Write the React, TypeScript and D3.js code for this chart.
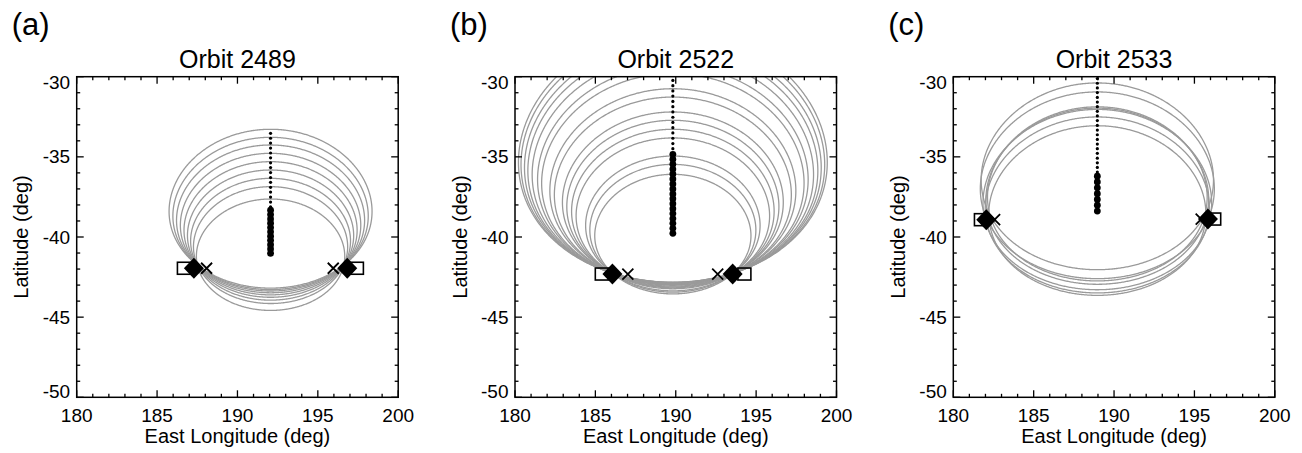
import React from 'react';
import * as d3 from 'd3';

// ---------- data ----------
const xTickValues = [180, 185, 190, 195, 200];
const yTickValues = [-30, -35, -40, -45, -50];
const panelLabels = ['(a)', '(b)', '(c)'];
const orbitTitles = ['Orbit 2489', 'Orbit 2522', 'Orbit 2533'];

// longitude of the track of dots / centre meridian of the footprint circles
const trackLon = [192.06, 189.82, 188.96];

// footprint circles: northernmost and southernmost latitude on the centre meridian
const circleTopsA = [-33.28, -33.78, -34.26, -34.78, -35.3, -35.82, -36.34, -36.86, -37.63];
const circleBottomsA = [-43.19, -43.28, -43.37, -43.48, -43.61, -43.76, -43.94, -44.15, -44.58];
const circleTopsB = [-27.1, -27.4, -27.8, -28.2, -28.7, -29.33, -29.8, -30.75, -31.27, -32.2, -32.72, -33.28, -33.82, -34.95, -35.47, -36.09];
const circleBottomsB = [-42.82, -42.83, -42.84, -42.86, -42.88, -42.91, -42.93, -42.98, -43.01, -43.07, -43.12, -43.17, -43.23, -43.36, -43.44, -43.55];
const circleTopsC = [-30.39, -30.95, -31.88, -31.96, -32.04, -32.51, -33.06];
const circleBottomsC = [-42.04, -42.6, -42.74, -42.95, -43.29, -43.49, -43.64];

// dots along the track (latitudes)
const smallDotsA = [-33.53, -33.84, -34.14, -34.45, -34.76, -35.06, -35.37, -35.67, -35.98, -36.29, -36.59, -36.9, -37.2, -37.51, -37.82, -38.12];
const bigDotsA = [-38.33, -38.6, -38.87, -39.14, -39.41, -39.68, -39.95, -40.21, -40.48, -40.75, -41.02];
const smallDotsB = [-30.23, -30.56, -30.89, -31.21, -31.54, -31.87, -32.2, -32.53, -32.85, -33.18, -33.51, -33.84, -34.17, -34.49];
const bigDotsB = [-34.84, -35.15, -35.46, -35.76, -36.07, -36.38, -36.69, -37.0, -37.31, -37.61, -37.92, -38.23, -38.54, -38.85, -39.15, -39.46, -39.77];
const smallDotsC = [-30.12, -30.41, -30.7, -30.99, -31.29, -31.58, -31.87, -32.16, -32.45, -32.74, -33.04, -33.33, -33.62, -33.91, -34.2, -34.49, -34.78, -35.08, -35.37, -35.66, -35.95];
const bigDotsC = [-36.21, -36.57, -36.93, -37.3, -37.66, -38.02, -38.38];

// markers [lon, lat]
const diamondsA = [[187.29, -41.95], [196.83, -41.95]];
const squaresA = [[186.67, -41.95], [197.43, -41.95]];
const crossesA = [[188.08, -41.95], [195.96, -41.95]];
const diamondsB = [[186.06, -42.31], [193.54, -42.31]];
const squaresB = [[185.4, -42.31], [194.27, -42.31]];
const crossesB = [[187.02, -42.31], [192.61, -42.31]];
const diamondsC = [[182.05, -38.92], [195.84, -38.88]];
const squaresC = [[181.72, -38.92], [196.23, -38.88]];
const crossesC = [[182.57, -38.92], [195.42, -38.88]];

const panels = [
  { tops: circleTopsA, bottoms: circleBottomsA, small: smallDotsA, big: bigDotsA, diamonds: diamondsA, squares: squaresA, crosses: crossesA },
  { tops: circleTopsB, bottoms: circleBottomsB, small: smallDotsB, big: bigDotsB, diamonds: diamondsB, squares: squaresB, crosses: crossesB },
  { tops: circleTopsC, bottoms: circleBottomsC, small: smallDotsC, big: bigDotsC, diamonds: diamondsC, squares: squaresC, crosses: crossesC },
];

// ---------- layout ----------
const W = 1302;
const H = 453;
const plotLefts = [76.7, 515, 953.3];
const plotW = 321.5;
const plotTop = 76.7;
const plotH = 320.6;
const FONT = "'Liberation Sans', Arial, Helvetica, sans-serif";

function Panel({ idx }: { idx: number }) {
  const L = plotLefts[idx];
  const p = panels[idx];
  const lon0 = trackLon[idx];
  const x = d3.scaleLinear().domain([180, 200]).range([L, L + plotW]);
  const y = d3.scaleLinear().domain([-30, -50]).range([plotTop, plotTop + plotH]);
  const line = d3.line<[number, number]>().x((d) => x(d[0] + lon0)).y((d) => y(d[1]));

  const circlePaths = p.tops.map((t, i) => {
    const b = p.bottoms[i];
    const gen = d3.geoCircle().center([0, (t + b) / 2]).radius((t - b) / 2).precision(0.5);
    const ring = gen().coordinates[0] as [number, number][];
    return line(ring) + 'Z';
  });

  const minorX = d3.range(180, 201, 1);
  const minorY = d3.range(-50, -29, 1);
  const clipId = `clip-${idx}`;
  const bottomY = plotTop + plotH;
  const rightX = L + plotW;
  const majLen = 7;
  const minLen = 3.5;

  return (
    <g>
      <defs>
        <clipPath id={clipId}>
          <rect x={L} y={plotTop} width={plotW} height={plotH} />
        </clipPath>
      </defs>
      {/* panel label */}
      <text x={L - 65} y={35} fontFamily={FONT} fontSize={31} fill="#000">
        {panelLabels[idx]}
      </text>
      {/* title */}
      <text x={L + plotW / 2} y={67.5} textAnchor="middle" fontFamily={FONT} fontSize={25} fill="#000">
        {orbitTitles[idx]}
      </text>

      <g clipPath={`url(#${clipId})`}>
        {circlePaths.map((d, i) => (
          <path key={i} d={d} fill="none" stroke="#9a9a9a" strokeWidth={1.3} />
        ))}
        {p.small.map((la, i) => (
          <circle key={'s' + i} cx={x(lon0)} cy={y(la)} r={1.6} fill="#000" />
        ))}
        {p.big.map((la, i) => (
          <circle key={'b' + i} cx={x(lon0)} cy={y(la)} r={3.4} fill="#000" />
        ))}
      </g>

      {/* markers */}
      {p.squares.map(([lo, la], i) => (
        <rect key={'q' + i} x={x(lo) - 6.5} y={y(la) - 6} width={13} height={12} fill="none" stroke="#000" strokeWidth={1.6} />
      ))}
      {p.crosses.map(([lo, la], i) => (
        <path key={'x' + i} d={`M${x(lo) - 5.5},${y(la) - 5.5}L${x(lo) + 5.5},${y(la) + 5.5}M${x(lo) - 5.5},${y(la) + 5.5}L${x(lo) + 5.5},${y(la) - 5.5}`} stroke="#000" strokeWidth={1.8} fill="none" />
      ))}
      {p.diamonds.map(([lo, la], i) => (
        <path key={'d' + i} d={`M${x(lo)},${y(la) - 10.5}L${x(lo) + 10},${y(la)}L${x(lo)},${y(la) + 10.5}L${x(lo) - 10},${y(la)}Z`} fill="#000" />
      ))}

      {/* frame */}
      <rect x={L} y={plotTop} width={plotW} height={plotH} fill="none" stroke="#000" strokeWidth={1.5} />

      {/* ticks */}
      {minorX.map((v) => {
        const len = v % 5 === 0 ? majLen : minLen;
        return (
          <g key={'tx' + v}>
            <line x1={x(v)} x2={x(v)} y1={bottomY} y2={bottomY - len} stroke="#000" strokeWidth={1.3} />
            <line x1={x(v)} x2={x(v)} y1={plotTop} y2={plotTop + len} stroke="#000" strokeWidth={1.3} />
          </g>
        );
      })}
      {minorY.map((v) => {
        const len = v % 5 === 0 ? majLen : minLen;
        return (
          <g key={'ty' + v}>
            <line x1={L} x2={L + len} y1={y(v)} y2={y(v)} stroke="#000" strokeWidth={1.3} />
            <line x1={rightX} x2={rightX - len} y1={y(v)} y2={y(v)} stroke="#000" strokeWidth={1.3} />
          </g>
        );
      })}

      {/* tick labels */}
      {xTickValues.map((v) => (
        <text key={'lx' + v} x={x(v)} y={421.5} textAnchor="middle" fontFamily={FONT} fontSize={19} fill="#000">
          {v}
        </text>
      ))}
      {yTickValues.map((v, i) => {
        const shift = i === 0 ? 5.3 : i === yTickValues.length - 1 ? -6.1 : 0;
        return (
          <text key={'ly' + v} x={L - 6.5} y={y(v) + 6.6 + shift} textAnchor="end" fontFamily={FONT} fontSize={19} fill="#000">
            {v}
          </text>
        );
      })}

      {/* axis titles */}
      <text x={L + plotW / 2} y={442.5} textAnchor="middle" fontFamily={FONT} fontSize={20} fill="#000">
        East Longitude (deg)
      </text>
      <text transform={`translate(${L - 48.5},${plotTop + plotH / 2}) rotate(-90)`} textAnchor="middle" fontFamily={FONT} fontSize={20} fill="#000">
        Latitude (deg)
      </text>
    </g>
  );
}

export default function App() {
  return (
    <svg width={W} height={H} style={{ position: 'absolute', left: 0, top: 0, background: '#fff' }}>
      <rect width={W} height={H} fill="#fff" />
      {[0, 1, 2].map((i) => (
        <Panel key={i} idx={i} />
      ))}
    </svg>
  );
}
